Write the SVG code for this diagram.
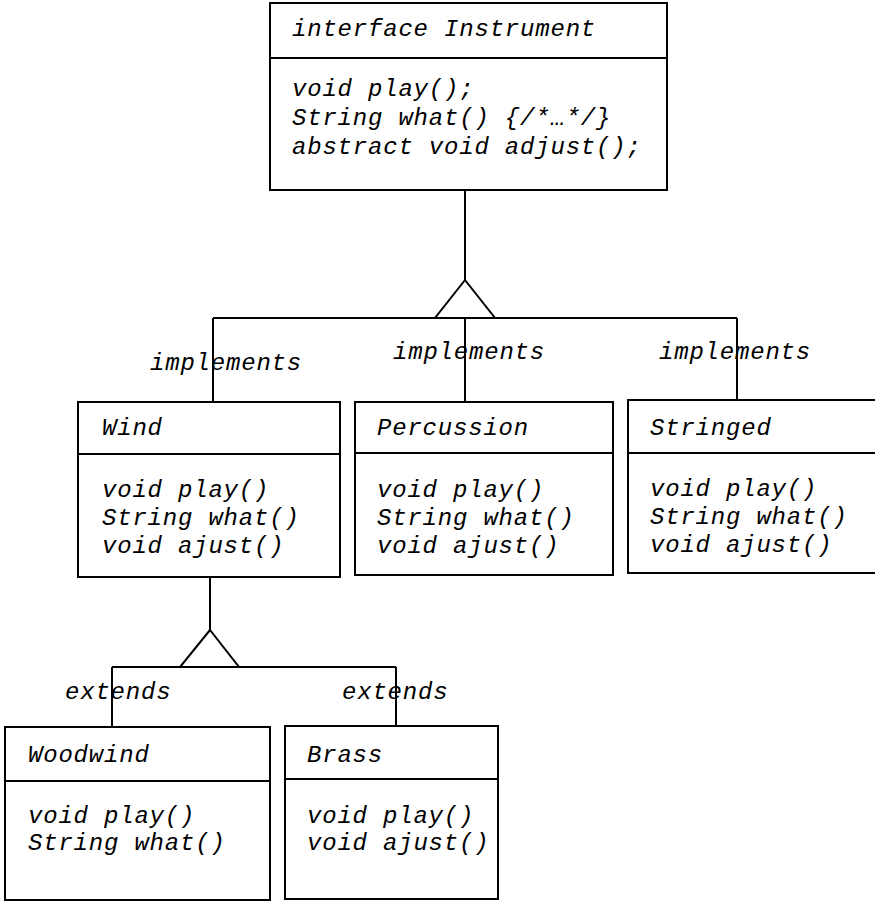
<svg xmlns="http://www.w3.org/2000/svg" width="875" height="903" viewBox="0 0 875 903">
<style>
  .box { fill: #fff; stroke: #000; stroke-width: 2; }
  .div { stroke: #000; stroke-width: 2; }
  .t { font-family: "Liberation Mono", "DejaVu Sans Mono", monospace; font-style: italic; font-size: 24px; letter-spacing: 0.8px; fill: #000; }
  .conn { fill: none; stroke: #000; stroke-width: 2; }
</style>
<rect width="875" height="903" fill="#fff"/>

<g id="Instrument">
  <rect class="box" x="270" y="3" width="397" height="187"/>
  <line class="div" x1="270" y1="58" x2="667" y2="58"/>
  <text class="t" x="292" y="36">interface Instrument</text>
  <text class="t" x="292" y="96">void play();</text>
  <text class="t" x="292" y="125">String what() {/*…*/}</text>
  <text class="t" x="292" y="154">abstract void adjust();</text>
</g>

<g id="Wind">
  <rect class="box" x="78" y="402" width="262" height="175"/>
  <line class="div" x1="78" y1="454" x2="340" y2="454"/>
  <text class="t" x="102" y="435">Wind</text>
  <text class="t" x="102" y="497">void play()</text>
  <text class="t" x="102" y="525">String what()</text>
  <text class="t" x="102" y="553">void ajust()</text>
</g>

<g id="Percussion">
  <rect class="box" x="355" y="402" width="258" height="173"/>
  <line class="div" x1="355" y1="453" x2="613" y2="453"/>
  <text class="t" x="377" y="435">Percussion</text>
  <text class="t" x="377" y="497">void play()</text>
  <text class="t" x="377" y="525">String what()</text>
  <text class="t" x="377" y="553">void ajust()</text>
</g>

<g id="Stringed">
  <rect class="box" x="628" y="400" width="262" height="173"/>
  <line class="div" x1="628" y1="453" x2="890" y2="453"/>
  <text class="t" x="650" y="435">Stringed</text>
  <text class="t" x="650" y="496">void play()</text>
  <text class="t" x="650" y="524">String what()</text>
  <text class="t" x="650" y="552">void ajust()</text>
</g>

<g id="Woodwind">
  <rect class="box" x="5" y="727" width="265" height="173"/>
  <line class="div" x1="5" y1="781" x2="270" y2="781"/>
  <text class="t" x="28" y="762">Woodwind</text>
  <text class="t" x="28" y="823">void play()</text>
  <text class="t" x="28" y="850">String what()</text>
</g>

<g id="Brass">
  <rect class="box" x="285" y="726" width="213" height="173"/>
  <line class="div" x1="285" y1="779" x2="498" y2="779"/>
  <text class="t" x="307" y="762">Brass</text>
  <text class="t" x="307" y="823">void play()</text>
  <text class="t" x="307" y="850">void ajust()</text>
</g>

<g id="connectors">
  <text class="t" x="150" y="370">implements</text>
  <text class="t" x="393" y="359">implements</text>
  <text class="t" x="659" y="359">implements</text>
  <text class="t" x="65" y="699">extends</text>
  <text class="t" x="342" y="699">extends</text>

  <line class="conn" x1="465" y1="190" x2="465" y2="280"/>
  <polygon class="conn" points="465,280 435,318 495,318"/>
  <line class="conn" x1="213" y1="318" x2="737" y2="318"/>
  <line class="conn" x1="213" y1="318" x2="213" y2="402"/>
  <line class="conn" x1="465" y1="318" x2="465" y2="402"/>
  <line class="conn" x1="737" y1="318" x2="737" y2="400"/>

  <line class="conn" x1="210" y1="577" x2="210" y2="630"/>
  <polygon class="conn" points="210,630 180,667 239,667"/>
  <line class="conn" x1="112" y1="667" x2="396" y2="667"/>
  <line class="conn" x1="112" y1="667" x2="112" y2="727"/>
  <line class="conn" x1="396" y1="667" x2="396" y2="726"/>
</g>
</svg>
